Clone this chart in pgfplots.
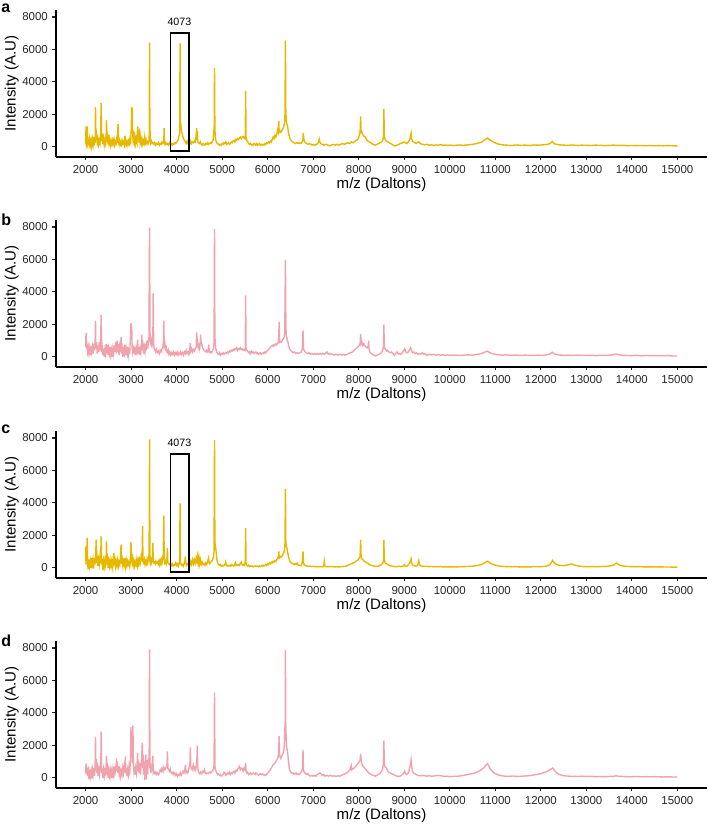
\documentclass[border=0pt]{standalone}
\usepackage{pgfplots}
\pgfplotsset{compat=1.18}
\usepackage{fontspec}
\setmainfont{Liberation Sans}
\definecolor{gold}{HTML}{E7B800}
\definecolor{pinkc}{HTML}{F0A3AD}
\newlength{\px}\setlength{\px}{0.75pt}
\pgfplotsset{spec/.style={
  scale only axis, width=651\px, height=147\px,
  anchor=south west,
  xmin=1350, xmax=15650, ymin=-630, ymax=8430,
  axis x line*=bottom, axis y line*=left,
  axis line style={line width=0.9pt, black},
  xtick={2000,3000,...,15000}, ytick={0,2000,4000,6000,8000},
  scaled x ticks=false, scaled y ticks=false,
  minor tick num=0,
  tick align=outside, major tick length=3.5\px,
  tick style={line width=0.8pt, black!85},
  /pgf/number format/fixed,
  /pgf/number format/1000 sep={},
  /pgf/number format/assume math mode=true,
  ticklabel style={font=\fontsize{8.6}{10}\selectfont, text=black!85},
  label style={font=\fontsize{11.3}{13}\selectfont},
  xlabel={m/z (Daltons)}, ylabel={Intensity (A.U)},
  xlabel style={at={(axis description cs:0.5,-0.19)}, anchor=center},
  ylabel style={at={(axis description cs:-0.068,0.5)}, anchor=center},
  clip=false,
}}
\begin{document}
\begin{tikzpicture}
\useasboundingbox (0,0) rectangle (709\px,826\px);
% ---------------- a ----------------
\begin{axis}[spec, at={(56\px,669\px)}]
\addplot[gold, line width=1.05pt] coordinates {
(2000,200)(2010,1250)(2018,150)(2028,300)(2036,1250)(2045,200)(2060,400)(2075,150)(2090,500)(2105,100)(2120,350)(2135,0)(2150,450)(2165,150)(2180,600)(2195,200)(2210,300)(2218,2440)(2228,400)(2240,700)(2255,250)(2270,500)(2285,150)(2300,400)(2315,200)(2330,600)(2342,2690)(2352,350)(2365,800)(2380,150)(2395,500)(2410,100)(2425,400)(2440,200)(2452,700)(2459,1660)(2468,300)(2480,600)(2495,150)(2510,740)(2520,200)(2535,400)(2550,100)(2565,350)(2580,150)(2595,400)(2610,200)(2625,450)(2640,100)(2655,300)(2670,200)(2685,500)(2700,250)(2713,1400)(2723,250)(2740,400)(2755,100)(2770,300)(2785,150)(2800,400)(2815,200)(2830,300)(2845,150)(2860,680)(2872,200)(2885,400)(2900,150)(2915,300)(2930,100)(2945,350)(2960,200)(2975,500)(2990,300)(3005,1200)(3012,2440)(3019,2200)(3025,2380)(3032,900)(3045,400)(3060,700)(3072,300)(3085,600)(3100,200)(3115,500)(3130,300)(3143,1250)(3153,400)(3165,700)(3175,250)(3183,1000)(3192,940)(3200,300)(3212,500)(3225,200)(3240,450)(3255,150)(3270,350)(3285,200)(3300,600)(3315,250)(3330,400)(3345,200)(3360,300)(3375,200)(3390,350)(3397,500)(3405,6420)(3413,500)(3422,640)(3430,250)(3445,350)(3460,200)(3480,250)(3500,150)(3520,250)(3540,100)(3560,200)(3580,150)(3600,250)(3620,100)(3640,200)(3660,150)(3680,300)(3700,200)(3718,300)(3725,1150)(3732,300)(3745,150)(3760,250)(3780,150)(3800,200)(3820,100)(3840,250)(3860,150)(3880,200)(3900,100)(3920,200)(3940,150)(3960,250)(3980,200)(4000,300)(4020,350)(4040,500)(4055,700)(4068,900)(4075,6380)(4082,1200)(4095,1300)(4110,900)(4130,700)(4150,500)(4170,400)(4190,300)(4210,200)(4230,350)(4250,200)(4270,300)(4290,150)(4310,350)(4330,200)(4350,300)(4370,250)(4390,350)(4410,300)(4425,600)(4439,1150)(4448,400)(4455,940)(4465,300)(4480,250)(4500,200)(4520,300)(4540,150)(4560,100)(4580,200)(4600,150)(4620,100)(4640,200)(4660,150)(4680,250)(4700,150)(4720,200)(4740,250)(4760,200)(4780,300)(4800,400)(4815,900)(4825,700)(4832,4840)(4840,1050)(4850,700)(4860,400)(4880,250)(4900,200)(4920,150)(4940,100)(4960,150)(4980,100)(5000,200)(5020,150)(5040,250)(5060,200)(5080,300)(5100,150)(5120,200)(5140,250)(5160,150)(5180,200)(5200,300)(5220,250)(5240,350)(5260,400)(5280,300)(5300,450)(5320,400)(5340,500)(5360,450)(5380,550)(5400,600)(5420,500)(5440,600)(5460,640)(5480,550)(5500,500)(5508,700)(5516,3440)(5524,600)(5540,400)(5560,300)(5580,200)(5600,150)(5620,200)(5640,100)(5660,150)(5680,100)(5700,200)(5720,150)(5740,100)(5760,200)(5780,100)(5800,150)(5820,200)(5840,100)(5860,150)(5880,100)(5900,150)(5920,100)(5940,200)(5960,150)(5980,250)(6000,200)(6020,300)(6040,250)(6060,350)(6080,300)(6100,450)(6120,600)(6140,500)(6160,700)(6180,600)(6200,800)(6220,1050)(6236,900)(6244,1600)(6252,900)(6268,1000)(6290,900)(6310,1000)(6330,1100)(6350,1200)(6370,1500)(6380,2000)(6390,6540)(6398,2200)(6408,1660)(6420,1400)(6430,1350)(6440,1200)(6455,900)(6470,700)(6490,500)(6510,400)(6530,350)(6550,300)(6580,250)(6610,200)(6640,250)(6670,200)(6700,250)(6730,200)(6760,300)(6775,500)(6783,840)(6792,500)(6805,350)(6830,250)(6860,200)(6890,150)(6920,200)(6950,150)(6980,100)(7010,150)(7040,100)(7070,150)(7100,200)(7120,300)(7132,470)(7145,300)(7165,200)(7200,150)(7240,100)(7280,150)(7320,100)(7360,50)(7400,100)(7440,150)(7480,100)(7520,150)(7560,100)(7600,150)(7640,200)(7680,150)(7720,200)(7760,250)(7800,200)(7840,300)(7880,250)(7920,350)(7960,400)(7990,500)(8010,700)(8030,900)(8042,1870)(8052,900)(8065,940)(8080,800)(8100,700)(8120,650)(8140,600)(8160,500)(8180,400)(8200,350)(8230,300)(8260,250)(8290,200)(8320,150)(8360,100)(8400,150)(8440,200)(8470,250)(8500,300)(8530,400)(8545,700)(8552,2340)(8562,700)(8575,500)(8590,400)(8610,350)(8640,300)(8670,250)(8700,200)(8730,150)(8760,100)(8800,50)(8840,100)(8880,150)(8920,200)(8960,250)(9000,300)(9030,250)(9060,200)(9090,300)(9120,450)(9140,700)(9150,840)(9162,500)(9180,350)(9200,300)(9230,250)(9260,200)(9290,250)(9320,300)(9350,200)(9400,150)(9450,120)(9500,150)(9550,100)(9600,120)(9650,90)(9700,110)(9750,100)(9800,130)(9850,90)(9900,110)(9950,80)(10000,100)(10100,80)(10200,110)(10300,90)(10400,120)(10500,150)(10600,200)(10700,300)(10780,450)(10830,535)(10880,420)(10950,300)(11050,180)(11150,120)(11250,100)(11350,80)(11450,110)(11550,90)(11650,100)(11750,80)(11850,110)(11950,100)(12050,120)(12150,150)(12200,200)(12250,330)(12300,180)(12400,120)(12500,100)(12600,90)(12700,110)(12800,80)(12900,100)(13000,90)(13100,80)(13200,100)(13300,90)(13400,70)(13500,90)(13600,100)(13700,80)(13800,90)(13900,70)(14000,80)(14100,70)(14200,80)(14300,60)(14400,70)(14500,60)(14600,70)(14700,60)(14800,70)(14900,60)(15000,60)
};
\draw[black, line width=1.1pt] (axis cs:3870,-250) rectangle (axis cs:4270,7000);
\node[font=\fontsize{8}{9}\selectfont] at (axis cs:4060,7720) {4073};
\end{axis}
% ---------------- b ----------------
\begin{axis}[spec, at={(56\px,459\px)}]
\addplot[pinkc, line width=1.05pt] coordinates {
(2000,600)(2010,1470)(2020,500)(2030,700)(2045,300)(2060,600)(2075,200)(2090,500)(2105,100)(2120,650)(2135,300)(2150,600)(2165,200)(2180,800)(2195,400)(2210,1000)(2218,2230)(2226,500)(2240,900)(2255,200)(2270,700)(2285,300)(2300,900)(2315,400)(2330,800)(2342,2580)(2352,300)(2365,600)(2380,100)(2395,500)(2410,0)(2425,400)(2440,150)(2452,800)(2465,200)(2480,750)(2495,100)(2510,500)(2525,200)(2540,600)(2555,100)(2570,400)(2585,0)(2600,500)(2615,200)(2630,700)(2645,300)(2660,900)(2675,200)(2690,1000)(2705,300)(2720,800)(2735,100)(2750,600)(2765,300)(2779,1220)(2790,200)(2805,500)(2820,0)(2835,400)(2850,200)(2865,740)(2880,100)(2895,500)(2910,200)(2925,600)(2940,100)(2955,400)(2970,300)(2985,1200)(2997,2090)(3007,1400)(3013,1880)(3022,600)(3035,300)(3050,700)(3065,200)(3080,600)(3095,100)(3110,500)(3125,300)(3143,1050)(3155,200)(3170,600)(3185,100)(3200,500)(3215,300)(3230,800)(3237,1360)(3245,400)(3260,700)(3275,200)(3290,600)(3305,300)(3320,800)(3335,400)(3350,1000)(3365,500)(3380,900)(3392,1200)(3405,7960)(3415,1500)(3425,900)(3435,800)(3445,1000)(3460,700)(3470,900)(3478,1200)(3485,3900)(3495,800)(3510,500)(3525,400)(3540,300)(3555,450)(3570,300)(3585,250)(3600,350)(3620,200)(3640,400)(3660,300)(3680,500)(3695,600)(3710,900)(3718,2230)(3727,700)(3740,850)(3755,500)(3770,600)(3785,300)(3800,250)(3815,400)(3830,150)(3850,300)(3870,100)(3890,250)(3910,150)(3930,300)(3950,100)(3970,250)(3990,150)(4010,300)(4030,100)(4050,250)(4070,150)(4090,300)(4110,150)(4130,250)(4150,100)(4170,300)(4190,200)(4210,400)(4230,200)(4250,300)(4270,150)(4290,450)(4300,850)(4310,350)(4330,500)(4350,300)(4370,450)(4390,350)(4410,500)(4430,600)(4439,1510)(4448,600)(4460,900)(4475,550)(4490,700)(4505,500)(4518,800)(4527,1360)(4537,900)(4550,800)(4565,600)(4580,500)(4600,400)(4620,350)(4640,300)(4660,400)(4680,300)(4700,500)(4708,740)(4716,300)(4730,250)(4750,300)(4770,250)(4790,400)(4810,500)(4822,900)(4832,7870)(4840,1260)(4848,900)(4860,500)(4880,300)(4900,200)(4920,150)(4940,250)(4960,100)(4980,200)(5000,150)(5020,250)(5040,150)(5060,200)(5080,250)(5100,200)(5120,300)(5140,250)(5160,350)(5180,300)(5200,400)(5220,350)(5240,450)(5260,400)(5280,500)(5300,450)(5320,550)(5340,400)(5360,500)(5380,450)(5400,550)(5420,450)(5440,500)(5460,400)(5480,450)(5500,400)(5508,600)(5516,3780)(5524,500)(5540,400)(5560,350)(5580,250)(5600,300)(5620,200)(5640,350)(5660,250)(5680,300)(5700,200)(5720,250)(5740,300)(5760,200)(5780,250)(5800,150)(5820,200)(5840,250)(5860,150)(5880,200)(5900,250)(5920,200)(5940,300)(5960,250)(5980,350)(6000,400)(6020,450)(6040,500)(6060,600)(6080,650)(6100,700)(6120,650)(6140,750)(6160,700)(6180,800)(6200,750)(6220,850)(6240,900)(6252,2150)(6262,900)(6280,950)(6300,900)(6320,1000)(6340,1100)(6360,1200)(6375,1500)(6390,5970)(6400,1800)(6410,1260)(6420,1200)(6430,1000)(6445,900)(6460,700)(6480,500)(6500,400)(6520,350)(6540,300)(6560,250)(6590,300)(6620,200)(6650,250)(6680,200)(6710,250)(6740,300)(6760,500)(6776,1630)(6786,500)(6800,400)(6820,300)(6850,250)(6880,200)(6910,250)(6940,150)(6970,200)(7000,150)(7030,200)(7060,150)(7090,200)(7120,150)(7150,200)(7180,150)(7210,200)(7240,150)(7270,200)(7300,300)(7320,200)(7350,150)(7380,200)(7420,150)(7460,100)(7500,150)(7540,100)(7580,150)(7620,100)(7660,150)(7700,100)(7740,150)(7780,200)(7820,250)(7860,300)(7900,400)(7940,500)(7980,600)(8010,700)(8030,800)(8042,1400)(8052,800)(8070,900)(8090,700)(8110,800)(8130,700)(8160,600)(8190,550)(8210,700)(8217,1000)(8225,500)(8245,300)(8270,200)(8300,150)(8330,100)(8360,50)(8400,100)(8440,150)(8480,200)(8510,300)(8535,500)(8545,700)(8552,1980)(8562,600)(8575,500)(8590,450)(8610,350)(8630,400)(8660,300)(8690,250)(8720,300)(8750,200)(8780,100)(8810,200)(8840,300)(8870,150)(8900,200)(8930,150)(8960,250)(8990,400)(9010,500)(9030,300)(9060,250)(9090,300)(9120,450)(9140,550)(9160,400)(9180,250)(9210,300)(9240,200)(9270,250)(9300,150)(9330,200)(9360,150)(9400,250)(9430,150)(9460,200)(9500,100)(9550,150)(9600,120)(9650,150)(9700,100)(9750,130)(9800,100)(9850,120)(9900,90)(9950,110)(10000,90)(10100,110)(10200,80)(10300,100)(10400,120)(10500,100)(10600,150)(10700,200)(10780,300)(10830,350)(10880,250)(10950,180)(11050,130)(11150,100)(11250,120)(11350,90)(11450,110)(11550,80)(11650,100)(11750,90)(11850,80)(11950,100)(12050,90)(12150,130)(12200,170)(12250,280)(12300,170)(12400,110)(12500,90)(12600,100)(12700,80)(12800,100)(12900,90)(13000,80)(13100,90)(13200,70)(13300,90)(13400,80)(13500,100)(13600,130)(13650,170)(13700,130)(13800,90)(13900,80)(14000,70)(14100,90)(14200,60)(14300,80)(14400,70)(14500,60)(14600,70)(14700,60)(14800,70)(14900,50)(15000,50)
};
\end{axis}
% ---------------- c ----------------
\begin{axis}[spec, at={(56\px,248\px)}]
\addplot[gold, line width=1.05pt] coordinates {
(2000,1300)(2010,200)(2020,600)(2036,1840)(2045,300)(2055,-100)(2070,500)(2085,100)(2100,400)(2115,0)(2130,600)(2145,200)(2160,500)(2175,-50)(2190,600)(2205,200)(2220,700)(2233,1740)(2242,300)(2255,600)(2270,100)(2285,500)(2300,200)(2315,650)(2330,300)(2342,1940)(2352,200)(2365,550)(2380,-150)(2395,400)(2410,100)(2425,500)(2440,200)(2452,600)(2459,1630)(2468,200)(2482,500)(2495,0)(2510,400)(2525,100)(2540,450)(2555,150)(2570,400)(2585,0)(2600,350)(2612,700)(2620,900)(2630,300)(2645,500)(2660,100)(2675,400)(2690,150)(2705,450)(2720,100)(2735,350)(2750,200)(2765,600)(2779,1430)(2790,250)(2805,500)(2820,100)(2835,400)(2850,200)(2865,600)(2880,100)(2895,450)(2910,150)(2925,400)(2940,200)(2955,350)(2970,100)(2985,400)(2997,1590)(3007,500)(3020,300)(3035,600)(3050,150)(3065,400)(3080,100)(3095,350)(3110,200)(3125,500)(3140,150)(3155,450)(3170,200)(3185,500)(3200,300)(3215,600)(3228,910)(3236,400)(3245,1200)(3252,2560)(3260,400)(3275,300)(3290,500)(3305,200)(3320,400)(3335,250)(3350,500)(3365,300)(3380,600)(3395,500)(3405,7920)(3413,600)(3422,300)(3435,500)(3450,300)(3465,500)(3478,1530)(3486,400)(3500,300)(3515,350)(3530,250)(3545,400)(3560,300)(3575,350)(3590,250)(3605,400)(3620,200)(3635,450)(3650,250)(3665,500)(3680,300)(3695,600)(3707,900)(3718,3220)(3727,600)(3740,300)(3755,400)(3770,250)(3785,500)(3798,1220)(3807,300)(3820,250)(3840,200)(3860,300)(3880,150)(3900,250)(3920,100)(3940,200)(3960,150)(3980,300)(4000,150)(4020,250)(4040,100)(4060,300)(4068,600)(4075,3970)(4083,400)(4095,250)(4110,150)(4130,200)(4150,100)(4170,300)(4182,400)(4191,700)(4200,300)(4215,150)(4230,250)(4250,200)(4270,300)(4290,150)(4310,400)(4330,200)(4350,500)(4370,250)(4390,500)(4410,300)(4430,600)(4445,400)(4460,700)(4475,300)(4490,650)(4505,250)(4520,500)(4540,200)(4560,350)(4580,200)(4600,250)(4620,150)(4640,300)(4660,200)(4680,400)(4700,600)(4715,300)(4730,250)(4750,350)(4770,400)(4790,500)(4810,700)(4822,1000)(4832,7870)(4840,1530)(4850,1400)(4860,1200)(4870,900)(4885,500)(4900,300)(4920,200)(4940,150)(4960,200)(4980,100)(5000,150)(5020,100)(5040,150)(5060,200)(5075,350)(5090,150)(5110,100)(5130,150)(5150,100)(5170,150)(5190,100)(5210,200)(5230,150)(5250,100)(5270,150)(5290,300)(5305,150)(5320,200)(5340,150)(5360,200)(5380,150)(5400,250)(5420,350)(5435,200)(5450,150)(5470,200)(5490,150)(5508,400)(5516,2440)(5524,300)(5540,150)(5560,100)(5580,150)(5600,80)(5620,120)(5640,80)(5660,100)(5680,60)(5700,100)(5720,80)(5740,120)(5760,80)(5780,100)(5800,60)(5820,120)(5840,80)(5860,100)(5880,150)(5900,100)(5920,150)(5940,120)(5960,200)(5980,150)(6000,250)(6020,200)(6040,300)(6060,250)(6080,350)(6100,300)(6120,400)(6140,350)(6160,450)(6180,400)(6200,500)(6220,600)(6236,700)(6244,1010)(6252,600)(6270,700)(6290,650)(6310,700)(6330,800)(6350,900)(6368,1100)(6380,1500)(6390,4840)(6398,1600)(6408,1320)(6420,1250)(6435,1000)(6450,800)(6465,600)(6480,450)(6500,350)(6520,300)(6540,250)(6560,250)(6580,200)(6600,250)(6620,200)(6650,290)(6670,150)(6700,150)(6730,120)(6760,300)(6776,1010)(6786,300)(6800,200)(6820,150)(6850,120)(6880,100)(6910,80)(6940,100)(6970,70)(7000,90)(7030,60)(7060,80)(7090,60)(7120,80)(7150,60)(7180,70)(7210,60)(7230,120)(7243,390)(7255,100)(7280,70)(7320,60)(7360,80)(7400,60)(7440,70)(7480,50)(7520,70)(7560,50)(7600,70)(7640,60)(7680,90)(7720,100)(7760,150)(7800,200)(7840,250)(7880,300)(7920,350)(7960,450)(7990,500)(8010,600)(8030,700)(8042,1740)(8052,700)(8070,550)(8090,500)(8120,400)(8150,350)(8180,300)(8210,250)(8240,200)(8270,150)(8300,130)(8340,100)(8380,80)(8420,100)(8460,130)(8500,200)(8530,300)(8545,500)(8552,1700)(8562,500)(8580,300)(8610,250)(8640,200)(8670,150)(8700,120)(8740,100)(8780,80)(8820,60)(8860,80)(8900,100)(8940,60)(8980,120)(9000,190)(9020,100)(9050,80)(9080,150)(9110,250)(9140,400)(9150,540)(9165,300)(9190,150)(9220,120)(9260,100)(9290,150)(9310,300)(9320,430)(9335,200)(9360,120)(9400,100)(9450,80)(9500,90)(9550,70)(9600,80)(9650,60)(9700,70)(9750,60)(9800,70)(9850,50)(9900,60)(9950,50)(10000,60)(10100,50)(10200,60)(10300,70)(10400,80)(10500,100)(10600,130)(10700,200)(10780,330)(10830,410)(10880,300)(10950,200)(11050,120)(11150,90)(11250,70)(11350,60)(11450,70)(11550,50)(11650,60)(11750,50)(11850,70)(11950,60)(12050,80)(12150,120)(12200,200)(12260,450)(12310,250)(12400,150)(12500,130)(12600,180)(12680,230)(12750,160)(12850,100)(12950,70)(13050,60)(13150,70)(13250,60)(13350,80)(13450,90)(13550,130)(13620,200)(13660,290)(13720,180)(13800,110)(13900,80)(14000,70)(14100,60)(14200,70)(14300,50)(14400,60)(14500,50)(14600,60)(14700,50)(14800,50)(14900,40)(15000,40)
};
\draw[black, line width=1.1pt] (axis cs:3870,-250) rectangle (axis cs:4270,7000);
\node[font=\fontsize{8}{9}\selectfont] at (axis cs:4060,7720) {4073};
\end{axis}
% ---------------- d ----------------
\begin{axis}[spec, at={(56\px,38\px)}]
\addplot[pinkc, line width=1.05pt] coordinates {
(2000,300)(2010,870)(2020,200)(2030,600)(2045,100)(2060,700)(2075,-100)(2090,500)(2105,100)(2120,400)(2135,-50)(2150,500)(2165,200)(2180,600)(2195,100)(2210,800)(2218,2520)(2226,500)(2235,1160)(2245,300)(2260,600)(2275,100)(2290,500)(2305,200)(2320,700)(2335,800)(2342,2850)(2352,300)(2365,600)(2380,0)(2395,500)(2410,150)(2425,600)(2440,100)(2452,800)(2459,1360)(2468,200)(2482,500)(2495,0)(2510,450)(2525,150)(2540,500)(2555,100)(2570,400)(2585,0)(2600,500)(2615,200)(2630,700)(2645,300)(2660,600)(2675,870)(2685,400)(2700,1010)(2712,300)(2725,700)(2740,200)(2755,500)(2770,100)(2785,400)(2800,200)(2815,600)(2830,300)(2845,700)(2860,500)(2874,1320)(2884,300)(2895,600)(2910,100)(2925,500)(2940,200)(2955,700)(2970,400)(2985,1000)(2997,3140)(3008,1200)(3020,1800)(3030,900)(3040,3220)(3050,800)(3062,400)(3075,700)(3085,200)(3100,600)(3115,300)(3130,800)(3143,1530)(3153,400)(3165,1000)(3175,300)(3190,900)(3205,200)(3220,800)(3232,1200)(3245,2150)(3255,600)(3265,1430)(3275,200)(3290,1000)(3300,-150)(3315,900)(3325,1430)(3335,-100)(3350,1100)(3360,200)(3375,900)(3388,1200)(3396,800)(3405,7920)(3413,600)(3422,900)(3432,300)(3445,800)(3455,400)(3465,900)(3478,1360)(3486,300)(3500,400)(3520,250)(3540,350)(3560,200)(3580,300)(3600,200)(3620,300)(3640,500)(3660,400)(3680,600)(3700,400)(3720,650)(3740,500)(3760,600)(3780,700)(3790,900)(3798,1630)(3808,600)(3825,500)(3840,400)(3860,550)(3880,300)(3900,250)(3920,350)(3940,200)(3960,300)(3980,150)(4000,250)(4020,100)(4040,200)(4060,150)(4080,300)(4100,150)(4120,250)(4140,400)(4160,300)(4180,500)(4195,800)(4205,300)(4225,400)(4245,300)(4265,500)(4280,700)(4292,900)(4301,1880)(4310,700)(4325,600)(4340,500)(4355,700)(4370,800)(4385,500)(4400,600)(4415,500)(4430,700)(4442,900)(4454,1980)(4463,700)(4475,400)(4490,300)(4510,250)(4530,350)(4550,250)(4570,400)(4590,350)(4610,500)(4630,300)(4650,250)(4670,300)(4690,250)(4710,300)(4730,350)(4750,300)(4770,400)(4790,450)(4810,550)(4822,800)(4832,5250)(4842,700)(4852,500)(4865,400)(4880,300)(4900,200)(4920,250)(4940,150)(4960,200)(4980,100)(5000,150)(5020,200)(5040,350)(5060,300)(5080,150)(5100,200)(5120,300)(5140,250)(5160,350)(5180,200)(5200,300)(5220,250)(5240,350)(5260,400)(5280,300)(5300,450)(5320,400)(5340,500)(5360,600)(5380,700)(5400,500)(5420,600)(5440,550)(5460,400)(5480,600)(5500,500)(5508,650)(5516,910)(5526,400)(5540,300)(5560,350)(5580,200)(5600,250)(5620,300)(5640,200)(5660,250)(5680,300)(5700,250)(5720,200)(5740,300)(5760,250)(5780,200)(5800,150)(5820,200)(5840,250)(5860,200)(5880,250)(5900,200)(5920,150)(5940,200)(5960,150)(5980,250)(6000,300)(6020,350)(6040,450)(6060,500)(6080,600)(6100,700)(6120,800)(6140,850)(6160,900)(6180,1000)(6200,1100)(6220,1200)(6235,1400)(6244,1800)(6252,2560)(6260,1500)(6270,1300)(6285,1200)(6300,1300)(6320,1400)(6340,1500)(6355,1700)(6368,2100)(6378,3000)(6385,3500)(6390,7870)(6396,3400)(6402,2770)(6410,2200)(6420,1840)(6430,1700)(6440,1530)(6450,1200)(6465,800)(6480,500)(6500,400)(6520,300)(6540,250)(6560,300)(6580,200)(6600,250)(6620,300)(6640,200)(6660,250)(6690,200)(6720,300)(6750,400)(6765,600)(6776,1700)(6786,500)(6800,350)(6820,300)(6840,250)(6860,200)(6880,250)(6910,150)(6940,100)(6970,150)(7000,100)(7030,150)(7060,100)(7090,200)(7120,250)(7150,300)(7170,250)(7200,150)(7230,200)(7260,100)(7300,150)(7340,100)(7380,150)(7420,100)(7460,120)(7500,90)(7540,120)(7580,100)(7620,150)(7660,200)(7700,250)(7740,300)(7780,400)(7810,500)(7828,700)(7836,760)(7846,500)(7870,550)(7900,600)(7930,700)(7960,800)(7990,900)(8010,1000)(8030,1100)(8042,1470)(8052,1100)(8065,900)(8080,750)(8100,700)(8130,600)(8160,500)(8190,400)(8220,300)(8250,250)(8280,200)(8310,150)(8340,120)(8370,100)(8400,150)(8430,200)(8460,250)(8490,350)(8520,500)(8540,800)(8552,2290)(8562,900)(8575,700)(8590,650)(8610,600)(8630,450)(8660,350)(8690,300)(8720,250)(8760,200)(8800,150)(8840,100)(8880,80)(8920,120)(8960,200)(8990,300)(9010,400)(9030,250)(9060,200)(9090,300)(9120,600)(9140,900)(9150,1110)(9160,800)(9180,400)(9200,300)(9230,250)(9260,200)(9300,150)(9350,120)(9400,150)(9450,120)(9500,100)(9550,130)(9600,90)(9650,110)(9700,130)(9750,150)(9800,130)(9850,100)(9900,80)(9950,100)(10000,70)(10100,90)(10200,100)(10300,150)(10400,200)(10500,250)(10600,350)(10700,500)(10760,650)(10800,800)(10830,865)(10860,700)(10900,500)(10950,350)(11000,250)(11100,150)(11200,100)(11300,90)(11400,110)(11500,80)(11600,100)(11700,120)(11800,150)(11900,200)(12000,250)(12100,350)(12180,450)(12230,550)(12260,600)(12300,450)(12350,300)(12400,200)(12500,130)(12600,100)(12700,90)(12800,80)(12900,100)(13000,80)(13100,90)(13200,70)(13300,80)(13400,70)(13500,80)(13600,90)(13650,120)(13700,100)(13800,80)(13900,70)(14000,60)(14100,80)(14200,60)(14300,70)(14400,60)(14500,70)(14600,60)(14700,50)(14800,60)(14900,50)(15000,50)
};
\end{axis}
% panel letters
\node[font=\fontsize{12}{14}\selectfont\bfseries, anchor=north west, inner sep=0pt] at (1\px,822\px) {a};
\node[font=\fontsize{12}{14}\selectfont\bfseries, anchor=north west, inner sep=0pt] at (1\px,612\px) {b};
\node[font=\fontsize{12}{14}\selectfont\bfseries, anchor=north west, inner sep=0pt] at (1\px,401\px) {c};
\node[font=\fontsize{12}{14}\selectfont\bfseries, anchor=north west, inner sep=0pt] at (1\px,191\px) {d};
\end{tikzpicture}
\end{document}
